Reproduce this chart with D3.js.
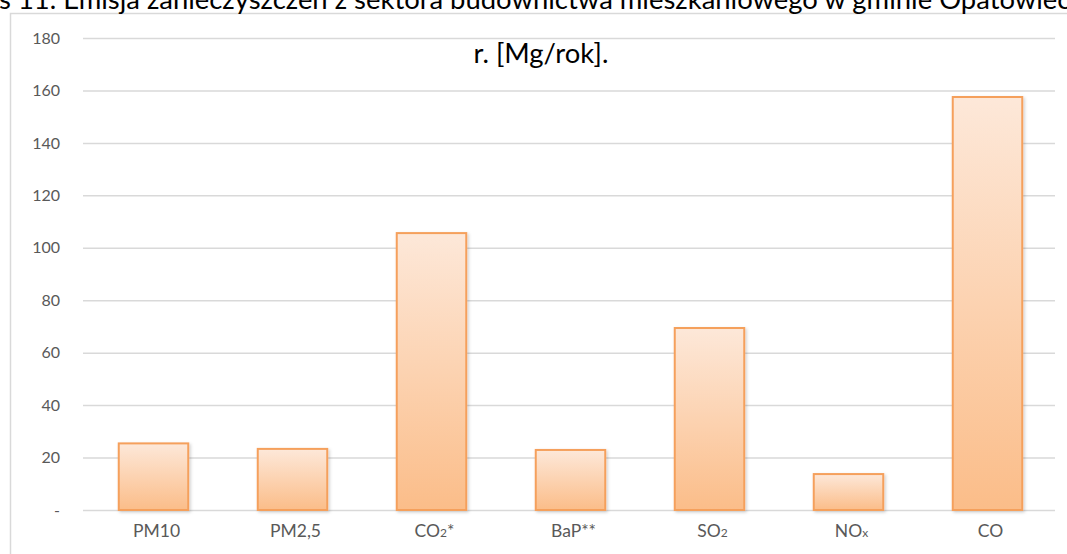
<!DOCTYPE html>
<html>
<head>
<meta charset="utf-8">
<script src="https://cdn.jsdelivr.net/npm/d3@7"></script>
<style>
  html, body { margin: 0; padding: 0; background: #fff; overflow: hidden; }
  svg { display: block; }
</style>
</head>
<body>
<svg id="chart" width="1067" height="554"></svg>
<script>
// Emissions from the residential sector, Mg per year
const categories = ["PM10", "PM2,5", "CO2*", "BaP**", "SO2", "NOx", "CO"];
const values = [25.4, 23.3, 105.6, 22.9, 69.4, 13.7, 157.5];
// Axis labels split into [text, subscript] runs
const categoryLabels = [
  [["PM10", 0]],
  [["PM2,5", 0]],
  [["CO", 0], ["2", 1], ["*", 0]],
  [["BaP**", 0]],
  [["SO", 0], ["2", 1]],
  [["NO", 0], ["x", 1]],
  [["CO", 0]]
];
const yTicks = [0, 20, 40, 60, 80, 100, 120, 140, 160, 180];
const titlePrefix = "Wykre";
const titleLine1 = "s 11. Emisja zanieczyszczeń z sektora budownictwa mieszkaniowego w gminie Opatowiec";
const titleLine2 = "r. [Mg/rok].";

const W = 1067, H = 554;
const FONT = "Lato, 'Open Sans', sans-serif";
const svg = d3.select("#chart");

const defs = svg.append("defs");
const grad = defs.append("linearGradient")
  .attr("id", "barFill").attr("x1", 0).attr("y1", 0).attr("x2", 0).attr("y2", 1);
grad.append("stop").attr("offset", "0%").attr("stop-color", "#fde8d9");
grad.append("stop").attr("offset", "100%").attr("stop-color", "#fbbd89");

const shadow = defs.append("filter").attr("id", "barShadow")
  .attr("x", "-20%").attr("y", "-10%").attr("width", "140%").attr("height", "130%");
shadow.append("feDropShadow").attr("dx", 1.5).attr("dy", 1.5)
  .attr("stdDeviation", 1.5).attr("flood-color", "#000").attr("flood-opacity", 0.18);

// chart area frame
svg.append("rect")
  .attr("x", 10.5).attr("y", 13.5).attr("width", W + 20).attr("height", H + 20)
  .attr("fill", "#fff").attr("stroke", "#d9d9d9").attr("stroke-width", 1.5);

const x = d3.scaleBand().domain(categories).range([84, 1057])
  .paddingInner(0.5).paddingOuter(0.25);
const y = d3.scaleLinear().domain([0, 180]).range([510, 38]);

// gridlines and value labels
const yAxis = d3.axisLeft(y).tickValues(yTicks)
  .tickSize(-(1055 - 83)).tickPadding(23)
  .tickFormat(d => d === 0 ? "-" : d3.format("d")(d));
const gy = svg.append("g").attr("transform", "translate(83,0)").call(yAxis);
gy.select(".domain").remove();
gy.selectAll(".tick line").attr("stroke", "#d9d9d9").attr("stroke-width", 1.5);
gy.selectAll(".tick text")
  .attr("fill", "#595959").style("font-family", FONT).style("font-size", "16px");

// bars
svg.append("g").selectAll("rect")
  .data(categories)
  .join("rect")
  .attr("x", d => x(d))
  .attr("width", x.bandwidth())
  .attr("y", (d, i) => y(values[i]))
  .attr("height", (d, i) => y(0) - y(values[i]))
  .attr("fill", "url(#barFill)")
  .attr("stroke", "#f5a05c")
  .attr("stroke-width", 2)
  .attr("filter", "url(#barShadow)");

// category labels with subscripts
const labels = svg.append("g").selectAll("text")
  .data(categories)
  .join("text")
  .attr("x", d => x(d) + x.bandwidth() / 2 + 3)
  .attr("y", 537)
  .attr("text-anchor", "middle")
  .attr("fill", "#595959")
  .style("font-family", FONT)
  .style("font-size", "17.5px");
labels.each(function(d, i) {
  const t = d3.select(this);
  categoryLabels[i].forEach(([txt, sub]) => {
    t.append("tspan").text(txt)
      .style("font-size", sub ? "12px" : null);
  });
});

// title, first line runs past both edges
const t1 = svg.append("text")
  .attr("fill", "#000").style("font-family", FONT).style("font-size", "20px");
const pre = t1.append("tspan").text(titlePrefix);
const main = t1.append("tspan").text(titleLine1);
const wMain = main.node().getComputedTextLength();
const fs = 20 * 1072 / wMain;
t1.style("font-size", fs + "px");
const wPre = pre.node().getComputedTextLength();
t1.attr("x", -wPre - 1).attr("y", 9);

svg.append("text")
  .attr("x", 541).attr("y", 63)
  .attr("text-anchor", "middle")
  .attr("fill", "#000")
  .style("font-family", FONT)
  .style("font-size", fs + "px")
  .text(titleLine2);
</script>
</body>
</html>
